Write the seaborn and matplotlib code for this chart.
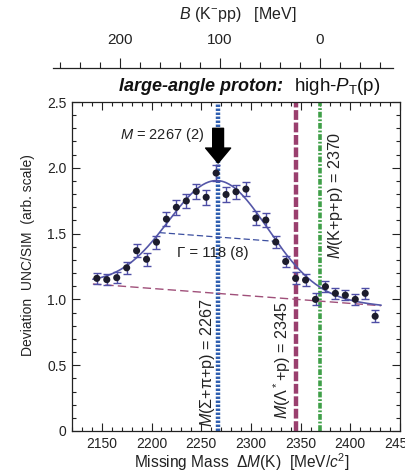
import numpy as np
import pandas as pd
import matplotlib
matplotlib.use("Agg")
import matplotlib.pyplot as plt
import seaborn as sns
from matplotlib.ticker import MultipleLocator

# ---------------- data ----------------
mass = [2145, 2155, 2165, 2175, 2185, 2195, 2205, 2215, 2225, 2235,
        2245, 2255, 2265, 2275, 2285, 2295, 2305, 2315, 2325, 2335,
        2345, 2355, 2365, 2375, 2385, 2395, 2405, 2415, 2425]
deviation = [1.16, 1.15, 1.165, 1.24, 1.37, 1.305, 1.435, 1.61, 1.70, 1.748,
             1.82, 1.776, 1.96, 1.797, 1.818, 1.838, 1.618, 1.603, 1.436, 1.288,
             1.16, 1.147, 1.0, 1.097, 1.046, 1.032, 1.0, 1.046, 0.872]
error = [0.04, 0.04, 0.04, 0.045, 0.05, 0.05, 0.05, 0.055, 0.055, 0.055,
         0.055, 0.055, 0.06, 0.055, 0.055, 0.055, 0.05, 0.05, 0.045, 0.045,
         0.045, 0.045, 0.045, 0.04, 0.04, 0.04, 0.04, 0.04, 0.045]

# fit parameters shown in the chart
peak_mass = 2267
width_gamma = 118
peak_amp = 0.857
bg_mass = [2141, 2431]
bg_level = [1.117, 0.952]

# reference thresholds
thr_sigma_pi_p = 2267
thr_lambda_p = 2345
thr_kpp = 2370

# axis ticks
x_ticks = [2150, 2200, 2250, 2300, 2350, 2400, 2450]
y_ticks = [0, 0.5, 1.0, 1.5, 2.0, 2.5]
y_tick_labels = ["0", "0.5", "1.0", "1.5", "2.0", "2.5"]
b_ticks = [200, 100, 0]

# ---------------- style ----------------
sns.set_theme(style="ticks")
plt.rcParams["font.family"] = ["Liberation Sans", "DejaVu Sans"]
plt.rcParams["mathtext.fontset"] = "custom"
plt.rcParams["mathtext.rm"] = "Liberation Sans"
plt.rcParams["mathtext.it"] = "Liberation Sans:italic"
plt.rcParams["mathtext.bf"] = "Liberation Sans:bold"

TXT = "#222222"
fig = plt.figure(figsize=(4.05, 4.76), dpi=100)
W, H = 405, 476

def px_axes(l, t, r, b):
    return fig.add_axes([l / W, 1 - b / H, (r - l) / W, (b - t) / H])

ax = px_axes(72, 102, 400, 431)

# fit curve (gaussian on linear background from the fit parameters)
xs = np.linspace(bg_mass[0], bg_mass[1], 300)
slope = (bg_level[1] - bg_level[0]) / (bg_mass[1] - bg_mass[0])
bg = bg_level[0] + slope * (xs - bg_mass[0])
sig = width_gamma / 2.3548
fit = bg + peak_amp * np.exp(-0.5 * ((xs - peak_mass) / sig) ** 2)
fit_df = pd.DataFrame({"m": xs, "fit": fit, "bg": bg})

# vertical threshold lines
ax.axvline(thr_sigma_pi_p, color="#2f5fb0", lw=3.2, dashes=(0.55, 0.35), zorder=2)
ax.axvline(thr_lambda_p, color="#9a3f6e", lw=3.2, dashes=(2.2, 0.6), zorder=2)
ax.axvline(thr_kpp, color="#3f9f48", lw=2.6, dashes=(1.6, 0.5, 0.5, 0.5), zorder=2)

# background
sns.lineplot(data=fit_df, x="m", y="bg", ax=ax, color="#a0507a", lw=1.0, zorder=3)
ax.lines[-1].set_dashes((6, 3))
# fit
sns.lineplot(data=fit_df, x="m", y="fit", ax=ax, color="#5557a8", lw=1.2, zorder=3)

# FWHM line
half_x = [peak_mass - width_gamma / 2, peak_mass + width_gamma / 2]
half_bg = [bg_level[0] + slope * (v - bg_mass[0]) for v in half_x]
half_y = [b + peak_amp / 2 for b in half_bg]
ax.plot(half_x, half_y, color="#3c4fa0", lw=0.9, dashes=(5, 2.5), zorder=3)

# data points
ax.errorbar(mass, deviation, yerr=error, fmt="none", ecolor="#4e4ea6",
            elinewidth=1.0, capsize=2.6, capthick=1.0, zorder=4)
df = pd.DataFrame({"m": mass, "d": deviation})
sns.scatterplot(data=df, x="m", y="d", ax=ax, color="#1c1c2c", s=26,
                edgecolor="none", zorder=5)

# arrow
ax.annotate("", xy=(peak_mass, 2.036), xytext=(peak_mass, 2.30),
            arrowprops=dict(arrowstyle="simple,head_width=1.8,head_length=1.08,tail_width=0.78",
                            color="black", mutation_scale=10, shrinkA=0, shrinkB=0),
            zorder=6)

# texts
fs = 10
ax.text(2211, 2.25, "$M$ = 2267 (2)", ha="center", va="center", fontsize=10.5, color=TXT)
ax.text(2262, 1.35, "Γ = 118 (8)", ha="center", va="center", fontsize=10.8, color=TXT)
ax.text(2256, 0.52, "$M$(Σ+π+p) = 2267", rotation=90, ha="center", va="center",
        fontsize=11.6, color=TXT)
ax.text(2331, 0.54, "$M$(Λ$^*$+p) = 2345", rotation=90, ha="center", va="center",
        fontsize=11.6, color=TXT)
ax.text(2385, 1.79, "$M$(K+p+p) = 2370", rotation=90, ha="center", va="center",
        fontsize=11.6, color=TXT)

ax.set_xlim(2120, 2450)
ax.set_ylim(0, 2.5)
ax.set_xticks(x_ticks)
ax.set_xticklabels([str(v) for v in x_ticks])
ax.set_yticks(y_ticks)
ax.set_yticklabels(y_tick_labels)
ax.xaxis.set_minor_locator(MultipleLocator(10))
ax.yaxis.set_minor_locator(MultipleLocator(0.1))
ax.tick_params(which="both", direction="in", top=True, right=True, colors=TXT,
               labelsize=fs, width=0.8)
ax.tick_params(which="major", length=6, pad=4)
ax.tick_params(which="minor", length=3)
for s in ax.spines.values():
    s.set_linewidth(0.9)
    s.set_color(TXT)
ax.set_xlabel("Missing Mass  Δ$M$(K)  [MeV/$c^2$]", fontsize=11.2, color=TXT)
ax.xaxis.set_label_coords((241.5 - 72) / 328, -(462 - 431) / 329)
ax.xaxis.label.set_va("center")
ax.set_ylabel("Deviation  UNC/SIM  (arb. scale)", fontsize=fs, color=TXT)
ax.yaxis.set_label_coords(-(72 - 28) / 328, (431 - 255) / 329)
ax.yaxis.label.set_va("center")

# subtitle
fig.text(283 / W, 1 - 91 / H, "large-angle proton:", ha="right", va="baseline",
         fontsize=13, fontweight="bold", style="italic", color="#111111")
fig.text(294 / W, 1 - 91 / H, "high-$P_\\mathrm{T}$(p)", ha="left", va="baseline",
         fontsize=13.5, color="#111111")

# top binding-energy axis
axb = px_axes(53, 48, 393, 68)
axb.set_xlim(267, -73)
axb.set_ylim(0, 1)
for k in ["top", "left", "right"]:
    axb.spines[k].set_visible(False)
axb.spines["bottom"].set_linewidth(0.9)
axb.spines["bottom"].set_color(TXT)
axb.set_yticks([])
axb.set_facecolor("none")
axb.set_xticks(b_ticks)
axb.set_xticklabels([str(v) for v in b_ticks])
axb.xaxis.set_minor_locator(MultipleLocator(20))
axb.tick_params(which="both", direction="in", bottom=True, top=False,
                labelbottom=False, labeltop=True, colors=TXT, labelsize=11, width=0.8)
axb.tick_params(which="major", length=7, pad=1)
axb.tick_params(which="minor", length=4)
fig.text(237.5 / W, 1 - 15 / H, "$B$ (K$^{-}$pp)   [MeV]", ha="center", va="center",
         fontsize=11.5, color=TXT)

fig.savefig("out.png", dpi=100)
